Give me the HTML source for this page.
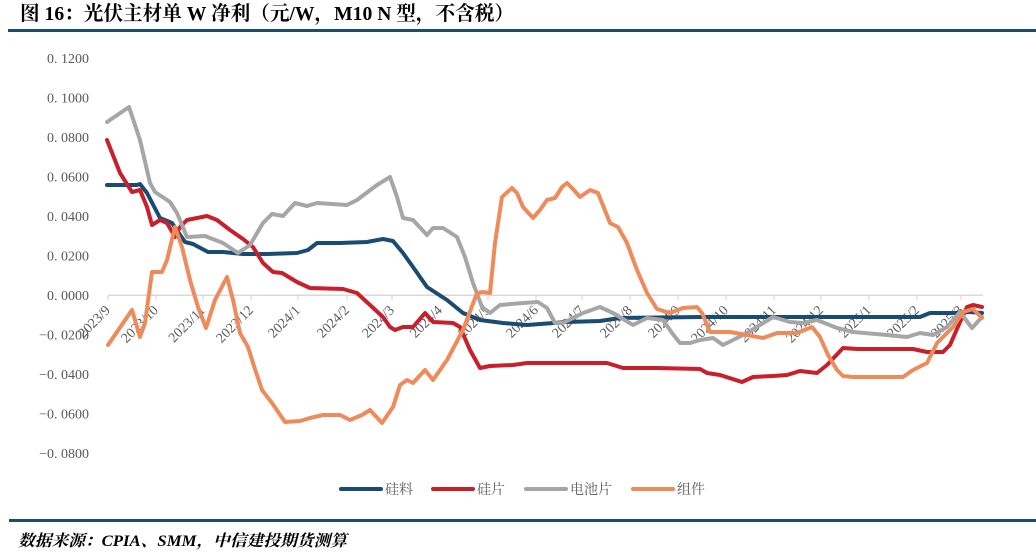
<!DOCTYPE html>
<html>
<head>
<meta charset="utf-8">
<style>
  html,body{margin:0;padding:0;background:#fff;}
  svg{display:block;}
</style>
</head>
<body>
<svg width="1036" height="557" viewBox="0 0 1036 557" xmlns="http://www.w3.org/2000/svg">
  <rect x="0" y="0" width="1036" height="557" fill="#ffffff"/>
  <!-- Title -->
  <text x="20" y="20" font-family="'Liberation Serif','Noto Serif CJK SC',serif" font-weight="bold" font-size="20" fill="#000" textLength="494" lengthAdjust="spacingAndGlyphs">图 16：光伏主材单 W 净利（元/W，M10 N 型，不含税）</text>
  <rect x="8" y="29" width="1028" height="3" fill="#1d4c6a"/>

  <!-- Y axis labels -->
  <g font-family="'Liberation Serif','Noto Serif CJK SC',serif" font-size="14" fill="#595959" text-anchor="end">
    <text x="89" y="63">0. 1200</text>
    <text x="89" y="102.5">0. 1000</text>
    <text x="89" y="142">0. 0800</text>
    <text x="89" y="181.5">0. 0600</text>
    <text x="89" y="221">0. 0400</text>
    <text x="89" y="260.5">0. 0200</text>
    <text x="89" y="300">0. 0000</text>
    <text x="89" y="339.5">−0. 0200</text>
    <text x="89" y="379">−0. 0400</text>
    <text x="89" y="418.5">−0. 0600</text>
    <text x="89" y="458">−0. 0800</text>
  </g>

  <!-- Zero axis -->
  <line x1="108" y1="295.3" x2="983" y2="295.3" stroke="#d9d9d9" stroke-width="1.5"/>
  <g stroke="#d9d9d9" stroke-width="1.2">
    <line x1="108" y1="295" x2="108" y2="300"/>
    <line x1="156" y1="295" x2="156" y2="300"/>
    <line x1="203" y1="295" x2="203" y2="300"/>
    <line x1="251" y1="295" x2="251" y2="300"/>
    <line x1="298" y1="295" x2="298" y2="300"/>
    <line x1="347" y1="295" x2="347" y2="300"/>
    <line x1="392" y1="295" x2="392" y2="300"/>
    <line x1="440" y1="295" x2="440" y2="300"/>
    <line x1="488" y1="295" x2="488" y2="300"/>
    <line x1="536" y1="295" x2="536" y2="300"/>
    <line x1="582" y1="295" x2="582" y2="300"/>
    <line x1="630" y1="295" x2="630" y2="300"/>
    <line x1="678" y1="295" x2="678" y2="300"/>
    <line x1="726" y1="295" x2="726" y2="300"/>
    <line x1="774" y1="295" x2="774" y2="300"/>
    <line x1="821" y1="295" x2="821" y2="300"/>
    <line x1="869" y1="295" x2="869" y2="300"/>
    <line x1="917" y1="295" x2="917" y2="300"/>
    <line x1="961" y1="295" x2="961" y2="300"/>
  </g>

  <!-- X axis labels -->
  <g font-family="'Liberation Serif','Noto Serif CJK SC',serif" font-size="14" fill="#595959" text-anchor="end">
    <text x="111" y="311" transform="rotate(-45 111 311)">2023/9</text>
    <text x="159" y="311" transform="rotate(-45 159 311)">2023/10</text>
    <text x="206" y="311" transform="rotate(-45 206 311)">2023/11</text>
    <text x="254" y="311" transform="rotate(-45 254 311)">2023/12</text>
    <text x="301" y="311" transform="rotate(-45 301 311)">2024/1</text>
    <text x="350" y="311" transform="rotate(-45 350 311)">2024/2</text>
    <text x="395" y="311" transform="rotate(-45 395 311)">2024/3</text>
    <text x="443" y="311" transform="rotate(-45 443 311)">2024/4</text>
    <text x="491" y="311" transform="rotate(-45 491 311)">2024/5</text>
    <text x="539" y="311" transform="rotate(-45 539 311)">2024/6</text>
    <text x="585" y="311" transform="rotate(-45 585 311)">2024/7</text>
    <text x="633" y="311" transform="rotate(-45 633 311)">2024/8</text>
    <text x="681" y="311" transform="rotate(-45 681 311)">2024/9</text>
    <text x="729" y="311" transform="rotate(-45 729 311)">2024/10</text>
    <text x="777" y="311" transform="rotate(-45 777 311)">2024/11</text>
    <text x="824" y="311" transform="rotate(-45 824 311)">2024/12</text>
    <text x="872" y="311" transform="rotate(-45 872 311)">2025/1</text>
    <text x="920" y="311" transform="rotate(-45 920 311)">2025/2</text>
    <text x="964" y="311" transform="rotate(-45 964 311)">2025/3</text>
  </g>

  <!-- Series -->
  <g fill="none" stroke-width="4" stroke-linejoin="round" stroke-linecap="round">
    <!-- 硅料 -->
    <polyline stroke="#1a4c73" points="107,185 137,185 140,184 147,193 160,218 172,223 185,242 193,244 208,252 223,252 243,254 267,254 297,253 308,250 317,243 340,243 367,242 383,239 393,241 403,253 413,267 427,287 447,300 463,313 480,320 503,323 527,325 567,322 600,321 620,318 700,317 867,317 920,317 930,313 953,313 970,312 982,313"/>
    <!-- 硅片 -->
    <polyline stroke="#c8202b" points="107,140 120,173 132,192 140,190 147,207 152,225 160,220 167,223 175,237 180,227 187,220 197,218 207,216 217,220 230,230 243,239 253,247 263,263 273,272 282,273 297,282 310,288 343,289 357,293 383,317 390,327 395,330 403,327 413,327 425,313 433,322 453,323 460,327 470,350 480,368 490,366 513,365 527,363 607,363 623,368 657,368 700,369 707,373 720,375 742,382 753,377 773,376 787,375 800,371 817,373 827,365 843,348 857,349 913,349 927,352 943,352 950,345 960,322 967,307 973,305 982,307"/>
    <!-- 电池片 -->
    <polyline stroke="#a6a6a6" points="107,122 129,107 140,140 150,183 155,192 170,202 177,213 187,237 205,236 223,243 238,253 250,245 263,223 272,214 283,216 295,203 307,206 317,203 347,205 357,200 377,185 390,177 397,197 403,218 413,220 427,235 433,228 443,228 457,237 465,257 473,283 482,307 490,313 500,305 523,303 538,302 547,308 555,323 563,323 583,313 600,307 613,313 633,325 647,318 663,320 672,333 680,343 690,343 700,340 713,338 723,345 733,340 747,333 773,317 790,322 803,323 817,320 837,328 853,332 887,335 907,337 920,333 933,335 947,327 960,312 972,328 982,317"/>
    <!-- 组件 -->
    <polyline stroke="#ef8b5a" points="108,345 132,310 140,337 145,323 152,272 162,272 167,260 175,227 182,247 190,280 198,307 206,328 215,300 227,277 233,300 240,333 248,347 253,363 262,390 272,403 285,422 300,421 310,418 323,415 340,415 350,420 362,415 370,410 382,423 393,407 400,385 407,380 413,383 425,370 433,380 447,360 463,330 477,293 483,292 490,293 495,243 502,197 512,188 517,193 523,207 533,218 540,210 547,200 555,198 562,187 567,183 572,188 580,197 590,190 598,193 610,223 618,227 627,243 637,270 647,293 657,309 670,313 683,308 697,307 702,313 710,332 730,332 747,335 763,338 777,333 797,333 812,327 820,337 828,355 837,370 843,376 853,377 903,377 913,370 927,363 937,343 947,333 953,327 963,312 973,309 982,318"/>
  </g>

  <!-- Legend -->
  <g stroke-width="4" stroke-linecap="round">
    <line x1="341" y1="489" x2="381" y2="489" stroke="#1a4c73"/>
    <line x1="433" y1="489" x2="473" y2="489" stroke="#c8202b"/>
    <line x1="526" y1="489" x2="566" y2="489" stroke="#a6a6a6"/>
    <line x1="633" y1="489" x2="673" y2="489" stroke="#ef8b5a"/>
  </g>
  <g font-family="'Liberation Serif','Noto Serif CJK SC',serif" font-size="14" fill="#595959">
    <text x="385" y="494">硅料</text>
    <text x="477" y="494">硅片</text>
    <text x="570" y="494">电池片</text>
    <text x="677" y="494">组件</text>
  </g>

  <!-- Footer -->
  <rect x="9" y="519" width="1027" height="3" fill="#1d4c6a"/>
  <text x="18" y="546" font-family="'Liberation Serif','Noto Serif CJK SC',serif" font-weight="bold" font-style="italic" font-size="16" fill="#000" textLength="329" lengthAdjust="spacingAndGlyphs">数据来源：CPIA、SMM，中信建投期货测算</text>
</svg>
</body>
</html>
